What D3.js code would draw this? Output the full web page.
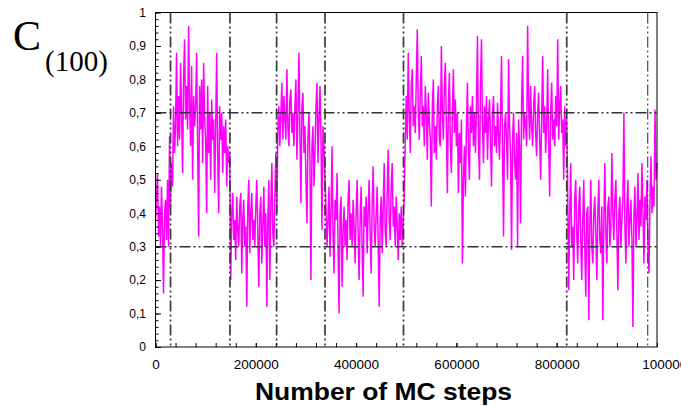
<!DOCTYPE html>
<html>
<head>
<meta charset="utf-8">
<script src="https://cdn.jsdelivr.net/npm/d3@7"></script>
<style>
  html, body { margin: 0; padding: 0; background: #fff; }
  svg { display: block; }
</style>
</head>
<body>
<svg id="chart" width="681" height="406"></svg>
<script>
// ---- data ----
const sampleInterval = 2000; // MC steps between samples
const values = [
  0.38,0.45,0.52,0.33,0.42,0.30,0.48,0.36,0.16,0.40,
  0.44,0.32,0.50,0.30,0.63,0.42,0.55,0.48,0.72,0.58,
  0.66,0.88,0.60,0.75,0.62,0.85,0.70,0.52,0.80,0.92,
  0.68,0.78,0.65,0.96,0.72,0.60,0.84,0.50,0.75,0.66,
  0.72,0.88,0.60,0.33,0.78,0.65,0.80,0.55,0.85,0.68,
  0.62,0.40,0.78,0.58,0.70,0.50,0.74,0.62,0.68,0.46,
  0.66,0.88,0.58,0.40,0.72,0.62,0.70,0.52,0.66,0.58,
  0.68,0.48,0.60,0.55,0.58,0.20,0.40,0.46,0.32,0.38,
  0.26,0.45,0.35,0.30,0.42,0.46,0.22,0.38,0.44,0.30,
  0.36,0.12,0.42,0.50,0.28,0.40,0.46,0.32,0.38,0.30,
  0.42,0.50,0.34,0.18,0.40,0.45,0.25,0.36,0.48,0.30,
  0.40,0.12,0.38,0.50,0.20,0.42,0.55,0.34,0.30,0.45,
  0.58,0.40,0.65,0.72,0.60,0.70,0.79,0.62,0.75,0.68,
  0.62,0.83,0.66,0.60,0.74,0.77,0.64,0.70,0.60,0.72,
  0.80,0.56,0.70,0.88,0.64,0.43,0.72,0.76,0.58,0.66,
  0.50,0.37,0.62,0.70,0.55,0.20,0.60,0.66,0.48,0.58,
  0.72,0.79,0.55,0.68,0.78,0.62,0.35,0.66,0.60,0.50,
  0.42,0.30,0.38,0.48,0.27,0.40,0.60,0.35,0.22,0.44,
  0.38,0.52,0.30,0.10,0.40,0.45,0.18,0.34,0.42,0.30,
  0.38,0.26,0.44,0.50,0.32,0.40,0.30,0.44,0.36,0.25,
  0.40,0.50,0.34,0.20,0.38,0.48,0.30,0.15,0.42,0.36,
  0.45,0.28,0.40,0.50,0.34,0.22,0.42,0.54,0.36,0.30,
  0.40,0.48,0.32,0.12,0.38,0.45,0.28,0.42,0.55,0.35,
  0.30,0.46,0.59,0.38,0.32,0.48,0.55,0.36,0.42,0.30,
  0.45,0.36,0.26,0.40,0.32,0.42,0.30,0.38,0.45,0.62,
  0.75,0.62,0.88,0.70,0.58,0.78,0.83,0.66,0.72,0.64,
  0.80,0.95,0.70,0.62,0.76,0.87,0.66,0.72,0.60,0.78,
  0.70,0.56,0.76,0.68,0.62,0.42,0.72,0.80,0.58,0.66,
  0.56,0.72,0.78,0.62,0.60,0.90,0.70,0.62,0.78,0.85,
  0.66,0.46,0.72,0.82,0.60,0.52,0.70,0.83,0.64,0.74,
  0.60,0.70,0.46,0.64,0.55,0.68,0.25,0.50,0.60,0.45,
  0.66,0.79,0.58,0.50,0.72,0.64,0.75,0.60,0.70,0.58,
  0.72,0.93,0.62,0.50,0.78,0.92,0.66,0.55,0.72,0.64,
  0.75,0.56,0.68,0.74,0.62,0.48,0.70,0.75,0.60,0.66,
  0.58,0.73,0.64,0.56,0.70,0.87,0.60,0.33,0.66,0.70,
  0.62,0.50,0.86,0.66,0.58,0.29,0.62,0.70,0.55,0.50,
  0.64,0.30,0.68,0.60,0.37,0.72,0.87,0.62,0.70,0.66,
  0.60,0.96,0.72,0.62,0.78,0.66,0.60,0.72,0.78,0.64,
  0.57,0.70,0.76,0.62,0.50,0.68,0.87,0.64,0.72,0.58,
  0.66,0.83,0.60,0.45,0.70,0.79,0.62,0.68,0.60,0.75,
  0.66,0.92,0.62,0.72,0.78,0.64,0.68,0.50,0.72,0.60,
  0.68,0.46,0.17,0.40,0.55,0.30,0.36,0.20,0.44,0.50,
  0.34,0.25,0.42,0.48,0.32,0.20,0.38,0.50,0.30,0.15,
  0.40,0.42,0.08,0.36,0.50,0.30,0.25,0.40,0.45,0.34,
  0.20,0.40,0.50,0.32,0.28,0.42,0.08,0.38,0.55,0.34,
  0.25,0.42,0.45,0.30,0.36,0.58,0.40,0.32,0.44,0.50,
  0.34,0.17,0.40,0.45,0.30,0.38,0.44,0.70,0.36,0.25,
  0.42,0.50,0.30,0.38,0.44,0.32,0.06,0.40,0.48,0.30,
  0.38,0.52,0.32,0.44,0.36,0.55,0.40,0.25,0.45,0.38,
  0.50,0.30,0.22,0.44,0.57,0.40,0.48,0.42,0.71,0.50,
  0.55
];
const steps = values.map((_, i) => i * sampleInterval);

const xTicks = [0, 200000, 400000, 600000, 800000, 1000000];
const xTickLabels = ["0", "200000", "400000", "600000", "800000", "1000000"];
const yTicks = [0, 0.1, 0.2, 0.3, 0.4, 0.5, 0.6, 0.7, 0.8, 0.9, 1];
const yTickLabels = ["0", "0,1", "0,2", "0,3", "0,4", "0,5", "0,6", "0,7", "0,8", "0,9", "1"];
const hRefLines = [0.3, 0.7];
const vRefLines = [30000, 148500, 241500, 338000, 494500, 820000, 981500];
const xMinorStep = 40000;
const yMinorStep = 0.02;

// ---- layout ----
const svg = d3.select("#chart");
const pL = 155.5, pR = 657, pT = 12.5, pB = 347;
const x = d3.scaleLinear().domain([0, 1000000]).range([pL, pR]);
const y = d3.scaleLinear().domain([0, 1]).range([pB, pT]);
const sans = "'Liberation Sans', Arial, sans-serif";
const serif = "'Liberation Serif', 'Times New Roman', serif";

// data line
const line = d3.line().x((d, i) => x(steps[i])).y(d => y(d));
svg.append("path")
  .datum(values)
  .attr("d", line)
  .attr("fill", "none")
  .attr("stroke", "#ff00ff")
  .attr("stroke-width", 1.5)
  .attr("stroke-linejoin", "bevel");

// reference dash-dot-dot lines
const dash = "11,3,2,3,2,3";
svg.append("g").selectAll("line").data(hRefLines).join("line")
  .attr("x1", pL).attr("x2", pR)
  .attr("y1", d => y(d)).attr("y2", d => y(d))
  .attr("stroke", "#333").attr("stroke-width", 1.5)
  .attr("stroke-dasharray", dash);
svg.append("g").selectAll("line").data(vRefLines).join("line")
  .attr("x1", d => x(d)).attr("x2", d => x(d))
  .attr("y1", pT).attr("y2", pB)
  .attr("stroke", "#3a3a3a").attr("stroke-width", (d, i) => i === vRefLines.length - 1 ? 1.1 : 1.7)
  .attr("stroke-dasharray", dash);

// minor ticks
const xMinor = d3.range(0, 1000000 + 1, xMinorStep);
const yMinor = d3.range(0, 50 + 1).map(k => +(k * yMinorStep).toFixed(2));

const gxm = svg.append("g").attr("transform", `translate(0,${pB})`)
  .call(d3.axisBottom(x).tickValues(xMinor).tickSize(-4).tickFormat(""));
gxm.select(".domain").remove();

const gym = svg.append("g").attr("transform", `translate(${pL},0)`)
  .call(d3.axisLeft(y).tickValues(yMinor).tickSize(-3).tickFormat(""));
gym.select(".domain").remove();

// major axes with labels
const gx = svg.append("g").attr("transform", `translate(0,${pB})`)
  .call(d3.axisBottom(x).tickValues(xTicks).tickSize(-4).tickPadding(12.5)
    .tickFormat((d, i) => xTickLabels[i]));
gx.select(".domain").remove();
gx.selectAll("text").attr("font-family", sans).attr("font-size", 13.5).attr("fill", "#000");
gx.selectAll(".tick").filter((d, i) => i === xTicks.length - 1).select("text").attr("dx", 11);

const gy = svg.append("g").attr("transform", `translate(${pL},0)`)
  .call(d3.axisLeft(y).tickValues(yTicks).tickSize(-5.5).tickPadding(9.5)
    .tickFormat((d, i) => yTickLabels[i]));
gy.select(".domain").remove();
gy.selectAll("text").attr("font-family", sans).attr("font-size", 12).attr("fill", "#000");

svg.selectAll(".tick line").attr("stroke", "#000");

// frame
svg.append("rect")
  .attr("x", pL).attr("y", pT)
  .attr("width", pR - pL).attr("height", pB - pT)
  .attr("fill", "none").attr("stroke", "#000").attr("stroke-width", 1);

// axis title
svg.append("text")
  .attr("x", 383.5).attr("y", 400)
  .attr("text-anchor", "middle")
  .attr("font-family", sans).attr("font-weight", "bold").attr("font-size", 23)
  .attr("textLength", 257).attr("lengthAdjust", "spacingAndGlyphs")
  .text("Number of MC steps");

// y label C(100)
svg.append("text")
  .attr("x", 13).attr("y", 50)
  .attr("font-family", serif).attr("font-size", 42)
  .text("C");
svg.append("text")
  .attr("x", 45).attr("y", 71)
  .attr("font-family", serif).attr("font-size", 29)
  .text("(100)");
</script>
</body>
</html>
